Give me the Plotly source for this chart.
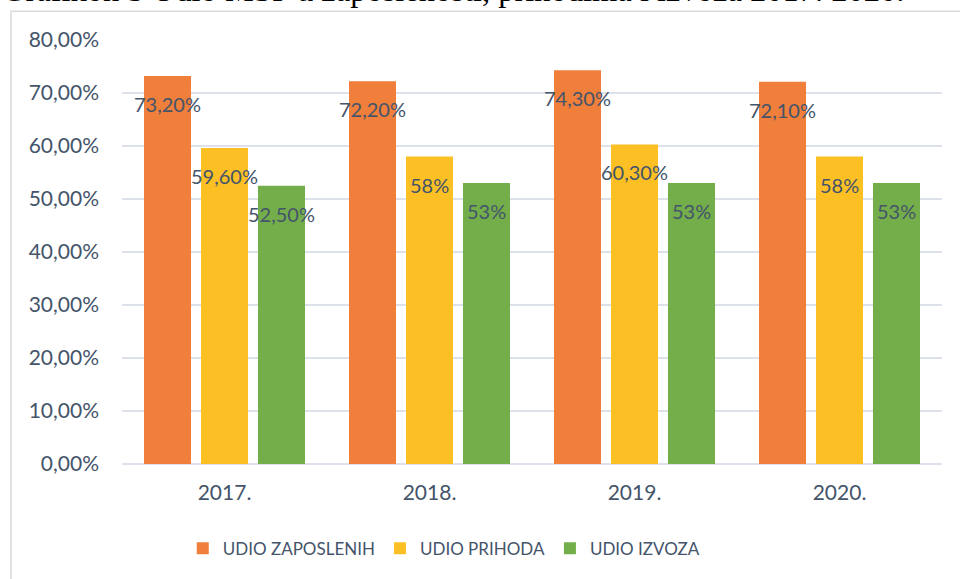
import plotly.graph_objects as go

years = ["2017.", "2018.", "2019.", "2020."]
series_names = ["UDIO ZAPOSLENIH", "UDIO PRIHODA", "UDIO IZVOZA"]
zaposlenih = [73.2, 72.2, 74.3, 72.1]
prihoda = [59.6, 58.0, 60.3, 58.0]
izvoza = [52.5, 53.0, 53.0, 53.0]
zaposlenih_labels = ["73,20%", "72,20%", "74,30%", "72,10%"]
prihoda_labels = ["59,60%", "58%", "60,30%", "58%"]
izvoza_labels = ["52,50%", "53%", "53%", "53%"]
y_ticks = [0, 10, 20, 30, 40, 50, 60, 70, 80]
y_tick_labels = ["0,00%", "10,00%", "20,00%", "30,00%", "40,00%", "50,00%", "60,00%", "70,00%", "80,00%"]
title_text = "Grafikon 5 Udio MSP u zaposlenosti, prihodima i izvoza 2017. 2020."

colors = ["#EF7F3B", "#FDC024", "#74AE4B"]
text_color = "#44546A"
FONT = "Lato"

fig = go.Figure()
all_vals = [zaposlenih, prihoda, izvoza]
all_labels = [zaposlenih_labels, prihoda_labels, izvoza_labels]
for name, vals, col in zip(series_names, all_vals, colors):
    fig.add_trace(go.Bar(x=years, y=vals, name=name, marker=dict(color=col, line=dict(width=0))))

slot_px = 57
for si, (vals, labs) in enumerate(zip(all_vals, all_labels)):
    for ci, (v, lab) in enumerate(zip(vals, labs)):
        fig.add_annotation(x=ci, y=v, xref="x", yref="y", text=lab, showarrow=False,
                           xshift=(si - 1) * slot_px, yshift=-28, yanchor="middle",
                           font=dict(family=FONT, size=20, color=text_color))

# title text cut off at top
fig.add_annotation(x=-0.1488, y=1.0705, xref="paper", yref="paper", text=title_text,
                   showarrow=False, xanchor="left", yanchor="bottom",
                   font=dict(family="Liberation Serif", size=32.5, color="#000000"))

# chart border
fig.add_shape(type="rect", xref="paper", yref="paper", x0=-0.1354, x1=1.04, y0=-0.33, y1=1.068,
              line=dict(color="#D9D9D9", width=1.5), fillcolor="rgba(0,0,0,0)", layer="below")

fig.update_layout(
    width=960, height=579,
    margin=dict(l=122, r=18, t=40, b=115),
    paper_bgcolor="white", plot_bgcolor="white",
    barmode="group", bargap=0.166, bargroupgap=0.175,
    font=dict(family=FONT, color=text_color),
    legend=dict(orientation="h", x=0.393, xanchor="center", y=-0.2, yanchor="middle",
                font=dict(family=FONT, size=17, color=text_color), itemsizing="constant",
                traceorder="normal"),
    xaxis=dict(type="category", range=[-0.5, 3.5], showgrid=False, showline=False, ticks="",
               ticklabelstandoff=14, tickfont=dict(family=FONT, size=21, color=text_color)),
    yaxis=dict(range=[0, 80], tickvals=y_ticks, ticktext=y_tick_labels,
               showgrid=True, gridcolor="#DDE2EA", gridwidth=2, zeroline=True, zerolinecolor="#DDE2EA",
               zerolinewidth=2, showline=False, ticks="", ticklabelstandoff=22,
               tickfont=dict(family=FONT, size=21, color=text_color)),
)

fig.write_html("out.html", config={"displayModeBar": False},
               post_script="document.body.style.margin='0';")
